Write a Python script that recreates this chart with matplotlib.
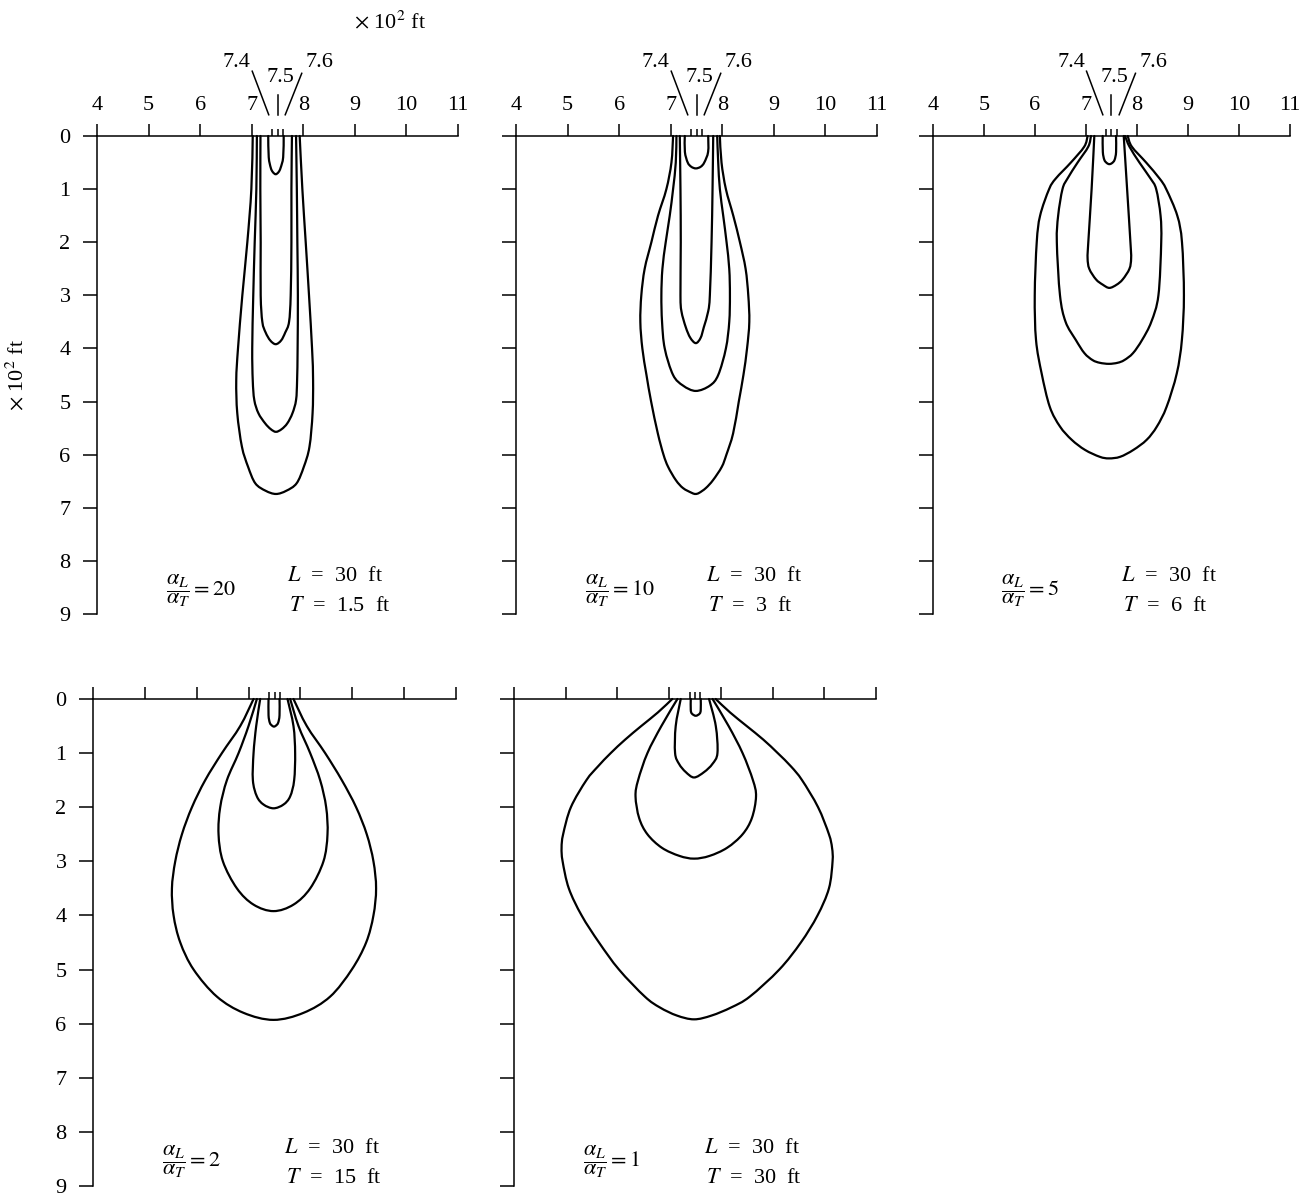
import matplotlib
matplotlib.use('Agg')
import matplotlib.pyplot as plt
from matplotlib.path import Path
from matplotlib.patches import PathPatch

plt.rcParams['font.family'] = ['Liberation Serif', 'DejaVu Serif']
plt.rcParams['mathtext.fontset'] = 'stix'

# ---------------- data ----------------
x_ticks = [4, 5, 6, 7, 8, 9, 10, 11]
y_ticks = [0, 1, 2, 3, 4, 5, 6, 7, 8, 9]
source_ticks = [7.4, 7.5, 7.6]
source_labels = ['7.4', '7.5', '7.6']

ratios = [20, 10, 5, 2, 1]
L_values = [30, 30, 30, 30, 30]
T_values = ['1.5', '3', '6', '15', '30']

# each panel: 4 contours (inner -> outer); depth (x10^2 ft), left x, right x
p20_depth = [[0, 0.4, 0.6, 0.68, 0.72],
             [0, 1, 2, 3, 3.5, 3.7, 3.85, 3.92],
             [0, 1, 2, 3, 4, 4.6, 4.97, 5.22, 5.41, 5.52, 5.57],
             [0, 1, 2, 3, 4, 4.6, 5.22, 5.85, 6.23, 6.54, 6.68, 6.74]]
p20_left = [[7.32, 7.33, 7.37, 7.41, 7.465],
            [7.17, 7.167, 7.174, 7.174, 7.206, 7.27, 7.36, 7.465],
            [7.10, 7.09, 7.058, 7.03, 7.01, 7.02, 7.05, 7.13, 7.26, 7.37, 7.47],
            [7.02, 6.993, 6.915, 6.818, 6.734, 6.70, 6.72, 6.81, 6.93, 7.07, 7.27, 7.47]]
p20_right = [[7.62, 7.61, 7.56, 7.52, 7.465],
             [7.78, 7.77, 7.77, 7.756, 7.724, 7.65, 7.57, 7.465],
             [7.86, 7.875, 7.885, 7.895, 7.89, 7.88, 7.86, 7.79, 7.69, 7.58, 7.47],
             [7.93, 7.982, 8.047, 8.111, 8.17, 8.19, 8.18, 8.12, 8.01, 7.87, 7.67, 7.47]]

p10_depth = [[0, 0.3, 0.5, 0.58, 0.61],
             [0, 1, 2, 3, 3.3, 3.6, 3.8, 3.9],
             [0, 0.5, 1, 1.5, 2, 2.5, 3, 3.5, 4, 4.5, 4.7, 4.8],
             [0, 0.5, 1, 1.5, 2, 2.5, 3, 3.5, 4, 4.5, 5, 5.6, 6.0, 6.23, 6.48, 6.63, 6.72,
              6.74]]
p10_left = [[7.273, 7.275, 7.33, 7.40, 7.487],
            [7.176, 7.189, 7.195, 7.189, 7.208, 7.292, 7.38, 7.487],
            [7.111, 7.098, 7.046, 6.981, 6.903, 6.839, 6.819, 6.832, 6.884, 7.046, 7.24, 7.487],
            [7.046, 7.014, 6.916, 6.754, 6.625, 6.495, 6.43, 6.411, 6.45, 6.53, 6.62, 6.75,
             6.86, 6.95, 7.10, 7.24, 7.41, 7.48]]
p10_right = [[7.727, 7.725, 7.65, 7.58, 7.487],
             [7.824, 7.811, 7.792, 7.759, 7.727, 7.642, 7.58, 7.487],
             [7.901, 7.921, 7.953, 8.018, 8.083, 8.135, 8.148, 8.135, 8.07, 7.921, 7.759, 7.487],
             [7.953, 7.985, 8.07, 8.213, 8.342, 8.452, 8.504, 8.524, 8.48, 8.41, 8.32, 8.21,
              8.08, 7.99, 7.82, 7.68, 7.55, 7.48]]

p5_depth = [[0, 0.3, 0.45, 0.51, 0.53],
            [0, 1, 2, 2.3, 2.5, 2.7, 2.8, 2.86],
            [0, 0.2, 0.5, 0.8, 1, 1.5, 2, 3, 3.5, 3.84, 4.09, 4.22, 4.27, 4.29],
            [0, 0.2, 0.5, 0.8, 1, 1.5, 2, 3, 3.84, 4.47, 5.10, 5.47, 5.72, 5.91, 6.04, 6.07]]
p5_left = [[7.327, 7.33, 7.36, 7.41, 7.458],
           [7.163, 7.11, 7.045, 7.031, 7.064, 7.196, 7.33, 7.458],
           [7.097, 7.045, 6.835, 6.638, 6.539, 6.454, 6.428, 6.49, 6.60, 6.80, 6.97, 7.13,
            7.27, 7.45],
           [7.031, 6.966, 6.703, 6.408, 6.277, 6.1, 6.034, 5.995, 6.02, 6.13, 6.29, 6.49,
            6.72, 6.98, 7.27, 7.45]]
p5_right = [[7.589, 7.59, 7.56, 7.51, 7.458],
            [7.74, 7.806, 7.871, 7.885, 7.852, 7.72, 7.6, 7.458],
            [7.766, 7.852, 8.048, 8.265, 8.376, 8.462, 8.475, 8.42, 8.28, 8.10, 7.92, 7.75,
             7.62, 7.45],
            [7.819, 7.898, 8.18, 8.442, 8.573, 8.79, 8.882, 8.92, 8.88, 8.78, 8.58, 8.39,
             8.19, 7.93, 7.67, 7.45]]

p2_depth = [[0, 0.3, 0.44, 0.49, 0.51],
            [0, 0.5, 1, 1.5, 1.8, 1.95, 2.02],
            [0, 0.5, 1, 1.5, 2, 2.5, 3, 3.5, 3.8, 3.92],
            [0, 0.5, 1, 1.5, 2, 2.5, 3, 3.5, 4, 4.5, 5, 5.5, 5.8, 5.93]]
p2_left = [[7.385, 7.385, 7.41, 7.45, 7.49],
           [7.224, 7.147, 7.096, 7.083, 7.16, 7.288, 7.481],
           [7.16, 6.999, 6.807, 6.582, 6.453, 6.421, 6.505, 6.775, 7.096, 7.481],
           [7.096, 6.839, 6.486, 6.164, 5.908, 5.715, 5.586, 5.522, 5.554, 5.683, 5.94, 6.389,
            6.903, 7.481]]
p2_right = [[7.597, 7.597, 7.57, 7.53, 7.49],
            [7.751, 7.866, 7.898, 7.879, 7.802, 7.674, 7.481],
            [7.802, 7.963, 8.188, 8.38, 8.496, 8.522, 8.444, 8.188, 7.866, 7.481],
            [7.866, 8.123, 8.477, 8.798, 9.074, 9.279, 9.408, 9.459, 9.408, 9.267, 8.99, 8.573,
             8.059, 7.481]]

p1_depth = [[0, 0.2, 0.27, 0.31],
            [0, 0.5, 1, 1.2, 1.35, 1.45],
            [0, 0.5, 1, 1.5, 1.8, 2.2, 2.5, 2.75, 2.9, 2.95],
            [0, 0.25, 0.5, 0.75, 1, 1.25, 1.5, 2, 2.5, 2.75, 3, 3.5, 4, 4.5, 5, 5.5, 5.7,
             5.85, 5.92]]
p1_left = [[7.418, 7.418, 7.44, 7.515],
           [7.224, 7.127, 7.115, 7.192, 7.321, 7.482],
           [7.16, 6.85, 6.58, 6.40, 6.35, 6.42, 6.58, 6.86, 7.2, 7.482],
           [7.06, 6.78, 6.46, 6.15, 5.87, 5.62, 5.40, 5.10, 4.95, 4.92, 4.94, 5.06, 5.308,
            5.644, 6.03, 6.53, 6.82, 7.15, 7.482]]
p1_right = [[7.611, 7.611, 7.59, 7.515],
            [7.772, 7.902, 7.934, 7.837, 7.676, 7.482],
            [7.84, 8.15, 8.42, 8.62, 8.68, 8.60, 8.42, 8.12, 7.78, 7.482],
            [7.90, 8.18, 8.50, 8.82, 9.10, 9.36, 9.57, 9.88, 10.09, 10.15, 10.16, 10.09,
             9.869, 9.547, 9.13, 8.56, 8.20, 7.82, 7.482]]

panel_depths = [p20_depth, p10_depth, p5_depth, p2_depth, p1_depth]
panel_lefts = [p20_left, p10_left, p5_left, p2_left, p1_left]
panel_rights = [p20_right, p10_right, p5_right, p2_right, p1_right]


def smooth_path(xs, ys):
    """Smooth curve through the read points (Catmull-Rom drawn as cubic Beziers)."""
    pts = list(zip(xs, ys))
    n = len(pts)
    verts = [pts[0]]
    codes = [Path.MOVETO]
    for k in range(n - 1):
        p0 = pts[k - 1] if k > 0 else pts[k]
        p1 = pts[k]
        p2 = pts[k + 1]
        p3 = pts[k + 2] if k + 2 < n else pts[k + 1]
        c1 = (p1[0] + (p2[0] - p0[0]) / 6.0, p1[1] + (p2[1] - p0[1]) / 6.0)
        c2 = (p2[0] - (p3[0] - p1[0]) / 6.0, p2[1] - (p3[1] - p1[1]) / 6.0)
        verts += [c1, c2, p2]
        codes += [Path.CURVE4, Path.CURVE4, Path.CURVE4]
    return Path(verts, codes)


# ---------------- layout ----------------
W, H = 1303, 1196
fig = plt.figure(figsize=(W / 100, H / 100), dpi=100)

boxes = [(97, 136, 458, 614), (516, 136, 877, 614), (933, 136, 1290, 614),
         (93, 699, 456, 1186), (514, 699, 876, 1186)]

FS = 16
LW_AX = 1.1

for i, (l, t, r, b) in enumerate(boxes):
    ax = fig.add_axes([l / W, 1 - b / H, (r - l) / W, (b - t) / H])
    ax.set_xlim(4, 11)
    ax.set_ylim(9, 0)
    for s in ['right', 'bottom']:
        ax.spines[s].set_visible(False)
    for s in ['top', 'left']:
        ax.spines[s].set_linewidth(LW_AX)
    ax.xaxis.tick_top()
    ax.set_xticks(x_ticks)
    ax.set_xticks(source_ticks, minor=True)
    ax.set_yticks(y_ticks)
    top_row = i < 3
    left_col = i in (0, 3)
    ax.tick_params(axis='x', which='major', direction='out', length=9, width=LW_AX,
                   pad=6, labelsize=FS, top=True, bottom=False,
                   labeltop=top_row, labelbottom=False)
    ax.tick_params(axis='x', which='minor', direction='out', length=5, width=LW_AX,
                   top=True, bottom=False)
    ax.tick_params(axis='y', which='major', direction='out', length=10, width=LW_AX,
                   pad=9, labelsize=FS, left=True, right=False, labelleft=left_col)
    ax.set_xticklabels([str(v) for v in x_ticks])
    ax.set_yticklabels([str(v) for v in y_ticks])

    # contours
    for dep, lx, rx in zip(panel_depths[i], panel_lefts[i], panel_rights[i]):
        xs = list(lx) + list(reversed(rx[:-1]))
        ys = list(dep) + list(reversed(dep[:-1]))
        ax.add_patch(PathPatch(smooth_path(xs, ys), facecolor='none', edgecolor='black',
                               lw=1.6, joinstyle='round', capstyle='round', clip_on=False))

    # parameter annotations
    ax.text(5.33, 8.55, r'$\dfrac{\alpha_L}{\alpha_T} = %d$' % ratios[i],
            fontsize=FS, ha='left', va='center')
    ax.text(7.68, 8.3, r'$L$  =  %d  ft' % L_values[i], fontsize=FS, ha='left', va='center')
    ax.text(7.72, 8.86, r'$T$  =  %s  ft' % T_values[i], fontsize=FS, ha='left', va='center')

    # source location labels
    if top_row:
        ax.text(6.71, -1.38, source_labels[0], fontsize=FS, ha='center', va='center',
                clip_on=False)
        ax.text(7.55, -1.10, source_labels[1], fontsize=FS, ha='center', va='center',
                clip_on=False)
        ax.text(8.32, -1.38, source_labels[2], fontsize=FS, ha='center', va='center',
                clip_on=False)
        ax.plot([7.01, 7.33], [-1.22, -0.40], color='black', lw=1.1, clip_on=False)
        ax.plot([7.50, 7.50], [-0.78, -0.40], color='black', lw=1.1, clip_on=False)
        ax.plot([7.97, 7.65], [-1.18, -0.40], color='black', lw=1.1, clip_on=False)

fig.text(390 / W, 1 - 22 / H, r'$\times$ 10$^2$ ft', fontsize=FS, ha='center', va='center')
fig.text(17 / W, 1 - 375 / H, r'$\times$ 10$^2$ ft', fontsize=FS, ha='center', va='center',
         rotation=90)

fig.savefig('out.png', dpi=100, facecolor='white')
